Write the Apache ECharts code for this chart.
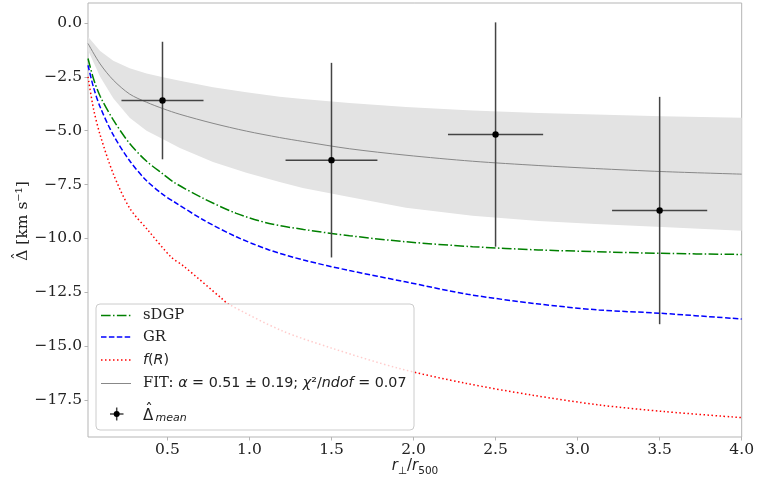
<!DOCTYPE html>
<html>
<head>
<meta charset="utf-8">
<script src="https://cdn.jsdelivr.net/npm/echarts@6/dist/echarts.min.js"></script>
<style>
  html, body { margin: 0; padding: 0; background: #fff; }
  #chart { width: 757px; height: 482px; }
</style>
</head>
<body>
<div id="chart"></div>
<script>
// Axis ticks
const xTicks = [0.5, 1.0, 1.5, 2.0, 2.5, 3.0, 3.5, 4.0];
const yTicks = [-17.5, -15.0, -12.5, -10.0, -7.5, -5.0, -2.5, 0.0];

// Measured mean values with errors
const xMean = [0.47, 1.50, 2.50, 3.50];
const yMean = [-3.60, -6.37, -5.18, -8.71];
const xErr = [0.25, 0.28, 0.29, 0.29];
const yErr = [2.73, 4.52, 5.21, 5.28];

// Best-fit curve and its uncertainty band
const fitX  = [0.016, 0.09, 0.17, 0.27, 0.373, 0.474, 0.576, 0.778, 0.981, 1.184, 1.325, 1.609, 1.954, 2.359, 2.764, 3.109, 3.514, 4.0];
const fitY  = [-0.95, -1.90, -2.65, -3.30, -3.68, -3.98, -4.24, -4.66, -5.02, -5.32, -5.50, -5.84, -6.14, -6.42, -6.62, -6.76, -6.90, -7.02];
const bandHi = [-0.64, -1.30, -1.75, -2.10, -2.35, -2.52, -2.68, -2.98, -3.22, -3.42, -3.53, -3.71, -3.90, -4.06, -4.18, -4.25, -4.33, -4.40];
const bandLo = [-1.26, -2.50, -3.50, -4.40, -5.00, -5.40, -5.80, -6.45, -6.95, -7.38, -7.66, -8.08, -8.58, -8.95, -9.20, -9.33, -9.48, -9.65];

// Model predictions
const sdgpX = [0.016, 0.05, 0.09, 0.17, 0.27, 0.37, 0.47, 0.54, 0.72, 0.92, 1.12, 1.33, 1.61, 1.95, 2.36, 2.76, 3.11, 3.51, 4.0];
const sdgpY = [-1.65, -2.60, -3.40, -4.50, -5.60, -6.40, -7.00, -7.40, -8.15, -8.84, -9.31, -9.59, -9.88, -10.16, -10.39, -10.54, -10.62, -10.70, -10.75];
const grX = [0.016, 0.05, 0.09, 0.17, 0.27, 0.37, 0.47, 0.54, 0.72, 0.92, 1.12, 1.33, 1.61, 1.95, 2.33, 2.75, 3.13, 3.50, 4.0];
const grY = [-1.96, -3.00, -3.90, -5.20, -6.40, -7.30, -7.95, -8.30, -9.15, -9.93, -10.54, -11.01, -11.50, -12.02, -12.60, -13.04, -13.33, -13.48, -13.75];
const frX = [0.016, 0.05, 0.09, 0.17, 0.27, 0.38, 0.52, 0.60, 0.83, 0.87, 1.20, 1.50, 1.91, 2.32, 2.72, 3.13, 3.53, 4.0];
const frY = [-2.50, -4.00, -5.20, -7.00, -8.60, -9.61, -10.85, -11.30, -12.79, -13.05, -14.30, -15.10, -16.04, -16.74, -17.28, -17.74, -18.05, -18.33];

const pairs = (xs, ys) => xs.map((x, i) => [x, ys[i]]);
const minusFmt = v => v.toFixed(1).replace('-', '\u2212');

const SERIF = 'DejaVu Serif';
const SANS = 'DejaVu Sans';
const LEG_SERIF = 14.8;
const LEG_SANS = 14.3;
const INK = '#222';

const chart = echarts.init(document.getElementById('chart'), null, { renderer: 'canvas' });

const lineSeries = (name, xs, ys, color, dash, width) => ({
  name, type: 'line', data: pairs(xs, ys), showSymbol: false, symbol: 'none',
  smooth: 0.3, z: 3,
  lineStyle: { color, width, type: dash }
});

// Legend drawn as graphic elements
const LX = 96, LY = 304;
const legendRows = [315.5, 337, 360, 383.5, 414];
const legend = [
  { type: 'rect', shape: { x: LX, y: LY, width: 318, height: 126, r: 4 },
    style: { fill: 'rgba(255,255,255,0.8)', stroke: '#cccccc', lineWidth: 1 }, z: 100 },
  { type: 'line', shape: { x1: 101, y1: legendRows[0], x2: 131, y2: legendRows[0] },
    style: { stroke: '#008000', lineWidth: 1.5, lineDash: [9.6, 2.4, 1.5, 2.4] }, z: 101 },
  { type: 'line', shape: { x1: 101, y1: legendRows[1], x2: 131, y2: legendRows[1] },
    style: { stroke: '#0000ff', lineWidth: 1.5, lineDash: [5.5, 2.4] }, z: 101 },
  { type: 'line', shape: { x1: 101, y1: legendRows[2], x2: 131, y2: legendRows[2] },
    style: { stroke: '#ff0000', lineWidth: 1.5, lineDash: [1.5, 2.5] }, z: 101 },
  { type: 'line', shape: { x1: 101, y1: legendRows[3], x2: 131, y2: legendRows[3] },
    style: { stroke: '#888888', lineWidth: 1 }, z: 101 },
  { type: 'line', shape: { x1: 110, y1: legendRows[4], x2: 123.5, y2: legendRows[4] },
    style: { stroke: '#444', lineWidth: 1.5 }, z: 101 },
  { type: 'line', shape: { x1: 116.7, y1: legendRows[4] - 6.5, x2: 116.7, y2: legendRows[4] + 6.5 },
    style: { stroke: '#444', lineWidth: 1.5 }, z: 101 },
  { type: 'circle', shape: { cx: 116.7, cy: legendRows[4], r: 3 }, style: { fill: '#000' }, z: 102 },
  { type: 'text', x: 143, y: legendRows[0], z: 101,
    style: { text: 'sDGP', font: LEG_SERIF + 'px "DejaVu Serif"', fill: INK, verticalAlign: 'middle' } },
  { type: 'text', x: 143, y: legendRows[1], z: 101,
    style: { text: 'GR', font: LEG_SERIF + 'px "DejaVu Serif"', fill: INK, verticalAlign: 'middle' } },
  { type: 'text', x: 143, y: legendRows[2], z: 101,
    style: { text: '{i|f}{n|(}{i|R}{n|)}', verticalAlign: 'middle', fill: INK,
      rich: { i: { fontFamily: SANS, fontStyle: 'italic', fontSize: LEG_SANS, fill: INK },
              n: { fontFamily: SANS, fontSize: LEG_SANS, fill: INK } } } },
  { type: 'text', x: 143, y: legendRows[3], z: 101,
    style: { text: '{s|FIT: }{i|\u03b1}{n| = 0.51 \u00b1 0.19; }{i|\u03c7}{n|\u00b2/}{i|ndof}{n| = 0.07}',
      verticalAlign: 'middle', fill: INK,
      rich: { s: { fontFamily: SERIF, fontSize: LEG_SERIF, fill: INK },
              i: { fontFamily: SANS, fontStyle: 'italic', fontSize: LEG_SANS, fill: INK },
              n: { fontFamily: SANS, fontSize: LEG_SANS, fill: INK } } } },
  // Δ̂_mean: delta, its hat and the subscript
  { type: 'text', x: 143, y: 416.5, z: 101,
    style: { text: '\u0394', font: '15px "DejaVu Sans"', fill: INK, verticalAlign: 'middle' } },
  { type: 'text', x: 149, y: 411, z: 101,
    style: { text: '\u02c6', font: '15px "DejaVu Sans"', fill: INK, align: 'center', verticalAlign: 'middle' } },
  { type: 'text', x: 155.5, y: 418.5, z: 101,
    style: { text: 'mean', font: 'italic 11px "DejaVu Sans"', fill: INK, verticalAlign: 'middle' } }
];

// Axis titles
const titles = [
  { type: 'text', x: 415, y: 466, z: 50,
    style: { text: '{i|r}{s|\u22a5}{n|/}{i|r}{s|500}', align: 'center', verticalAlign: 'middle', fill: INK,
      rich: { i: { fontFamily: SANS, fontStyle: 'italic', fontSize: 15, lineHeight: 22, fill: INK },
              n: { fontFamily: SANS, fontSize: 15, lineHeight: 22, fill: INK },
              s: { fontFamily: SANS, fontSize: 10.5, lineHeight: 22, verticalAlign: 'bottom', fill: INK } } } },
  { type: 'text', x: 23, y: 221, rotation: Math.PI / 2, z: 50,
    style: { text: '\u0394 [km s\u207b\u00b9]', font: '15.5px "DejaVu Serif"', fill: INK,
      align: 'center', verticalAlign: 'middle' } },
  { type: 'text', x: 18.5, y: 256, rotation: Math.PI / 2, z: 50,
    style: { text: '\u02c6', font: '15.5px "DejaVu Serif"', fill: INK,
      align: 'center', verticalAlign: 'middle' } }
];

const option = {
  animation: false,
  backgroundColor: '#ffffff',
  grid: { left: 88, right: 14, top: 3, bottom: 45, show: true, borderColor: '#b5b5b5', borderWidth: 1, backgroundColor: 'transparent' },
  xAxis: {
    type: 'value', min: 0.016, max: 4.0,
    axisLine: { show: false, onZero: false }, splitLine: { show: false },
    axisTick: { show: true, length: 3.5, lineStyle: { color: '#b5b5b5' }, customValues: xTicks },
    axisLabel: { customValues: xTicks, formatter: v => v.toFixed(1), fontFamily: SERIF, fontSize: 15.5, color: INK, margin: 5 }
  },
  yAxis: {
    type: 'value', min: -19.23, max: 0.93,
    axisLine: { show: false, onZero: false }, splitLine: { show: false },
    axisTick: { show: true, length: 3.5, lineStyle: { color: '#b5b5b5' }, customValues: yTicks },
    axisLabel: { customValues: yTicks, formatter: minusFmt, fontFamily: SERIF, fontSize: 15.5, color: INK, margin: 6 }
  },
  graphic: { elements: legend.concat(titles) },
  series: [
    {
      name: 'band', type: 'custom', z: 1, silent: true,
      data: [[0, 0]],
      renderItem: (params, api) => {
        const upper = fitX.map((x, i) => api.coord([x, bandHi[i]]));
        const lower = fitX.map((x, i) => api.coord([x, bandLo[i]])).reverse();
        return { type: 'polygon', shape: { points: upper.concat(lower) },
                 style: { fill: '#e3e3e3', stroke: null } };
      }
    },
    lineSeries('sDGP', sdgpX, sdgpY, '#008000', [9.6, 2.4, 1.5, 2.4], 1.5),
    lineSeries('GR', grX, grY, '#0000ff', [5.5, 2.4], 1.5),
    lineSeries('f(R)', frX, frY, '#ff0000', [1.5, 2.5], 1.5),
    lineSeries('FIT', fitX, fitY, '#888888', 'solid', 1),
    {
      name: 'mean', type: 'custom', z: 5,
      data: xMean.map((x, i) => [x, yMean[i], xErr[i], yErr[i]]),
      renderItem: (params, api) => {
        const x = api.value(0), y = api.value(1), dx = api.value(2), dy = api.value(3);
        const c = api.coord([x, y]);
        const l = api.coord([x - dx, y]), r = api.coord([x + dx, y]);
        const t = api.coord([x, y + dy]), b = api.coord([x, y - dy]);
        return { type: 'group', children: [
          { type: 'line', shape: { x1: l[0], y1: l[1], x2: r[0], y2: r[1] }, style: { stroke: '#444', lineWidth: 1.5 } },
          { type: 'line', shape: { x1: t[0], y1: t[1], x2: b[0], y2: b[1] }, style: { stroke: '#444', lineWidth: 1.5 } },
          { type: 'circle', shape: { cx: c[0], cy: c[1], r: 3.2 }, style: { fill: '#000' } }
        ] };
      }
    }
  ]
};

chart.setOption(option);
</script>
</body>
</html>
